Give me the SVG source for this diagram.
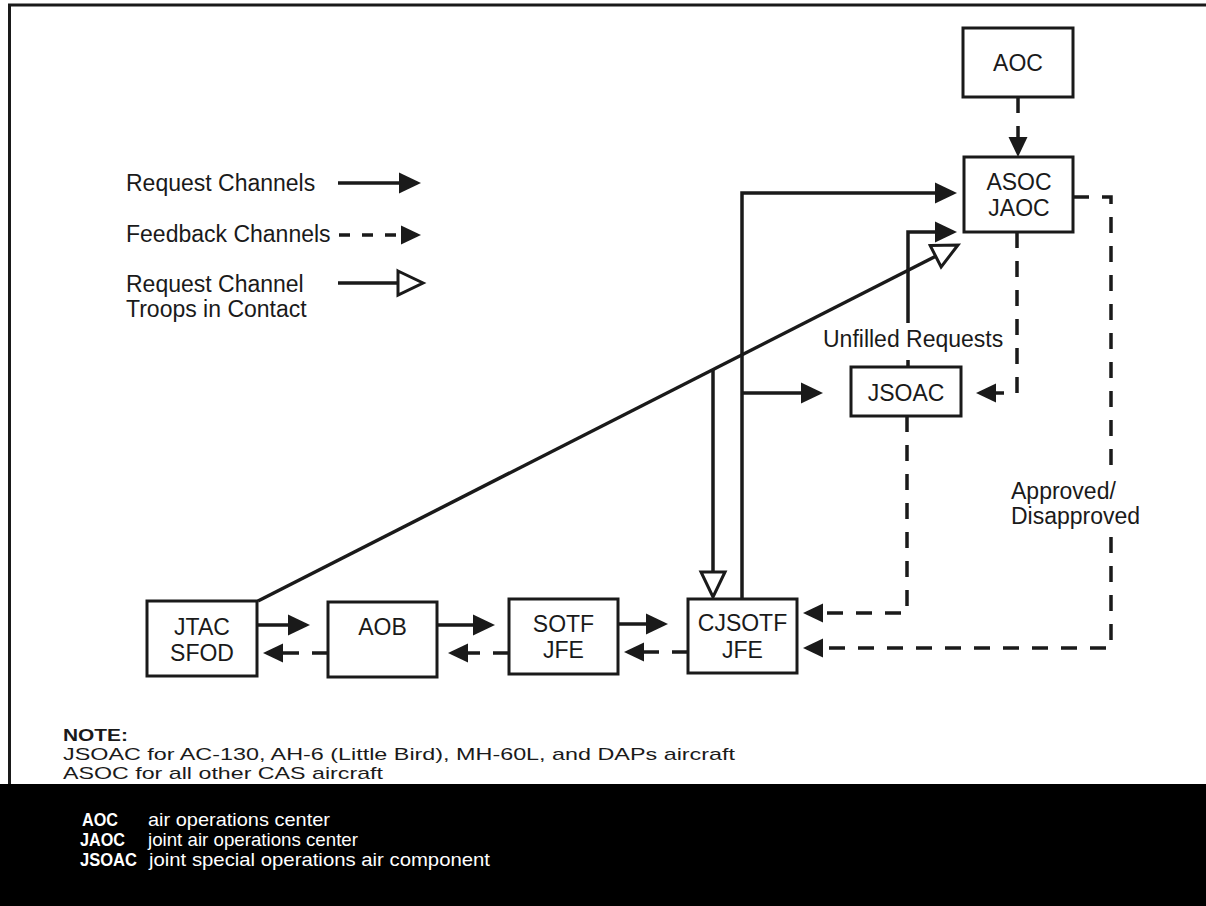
<svg xmlns="http://www.w3.org/2000/svg" width="1206" height="906" viewBox="0 0 1206 906">
<style>
  .box { fill: #fff; stroke: #1a1a1a; stroke-width: 3; }
  .lbl { font-family: "Liberation Sans", Arial, sans-serif; font-size: 23px; fill: #1a1a1a; text-anchor: middle; }
  .txt { font-family: "Liberation Sans", Arial, sans-serif; font-size: 23px; fill: #1a1a1a; }
  .note { font-family: "Liberation Sans", Arial, sans-serif; font-size: 17px; fill: #1a1a1a; }
  .band { font-family: "Liberation Sans", Arial, sans-serif; font-size: 19px; fill: #fff; }
  .solid { fill: none; stroke: #1a1a1a; stroke-width: 3.5; }
  .dash { fill: none; stroke: #1a1a1a; stroke-width: 3.5; stroke-dasharray: 16 13; }
</style>
<defs>
  <marker id="arr" markerUnits="userSpaceOnUse" markerWidth="22" markerHeight="21" refX="18" refY="10.5" orient="auto" overflow="visible">
    <path d="M0,0 L22,10.5 L0,21 z" fill="#1a1a1a"/>
  </marker>
  <marker id="arrs" markerUnits="userSpaceOnUse" markerWidth="20" markerHeight="19" refX="16" refY="9.5" orient="auto" overflow="visible">
    <path d="M0,0 L20,9.5 L0,19 z" fill="#1a1a1a"/>
  </marker>
  <marker id="hollow" markerUnits="userSpaceOnUse" markerWidth="25" markerHeight="24" refX="0" refY="12" orient="auto" overflow="visible">
    <path d="M0,0 L25,12 L0,24 z" fill="#fff" stroke="#1a1a1a" stroke-width="3"/>
  </marker>
</defs>

<rect x="0" y="0" width="1206" height="906" fill="#fff"/>
<rect x="9.5" y="5" width="1210" height="900" fill="none" stroke="#1a1a1a" stroke-width="3"/>
<rect x="0" y="784" width="1206" height="122" fill="#000"/>

<g id="legend">
  <text class="txt" x="126" y="191">Request Channels</text>
  <path class="solid" d="M338,183 H417" marker-end="url(#arr)"/>
  <text class="txt" x="126" y="242">Feedback Channels</text>
  <path class="solid" d="M339,235 H417" stroke-dasharray="11 12" marker-end="url(#arrs)"/>
  <text class="txt" x="126" y="292">Request Channel</text>
  <text class="txt" x="126" y="317">Troops in Contact</text>
  <path class="solid" d="M338,283 H398" marker-end="url(#hollow)"/>
</g>

<g id="connectors">
  <!-- solid request channels -->
  <path class="solid" d="M257,625 H306" marker-end="url(#arr)"/>
  <path class="solid" d="M437,625 H491" marker-end="url(#arr)"/>
  <path class="solid" d="M618,624 H664" marker-end="url(#arr)"/>
  <path class="solid" d="M742,599 V193 H953" marker-end="url(#arr)"/>
  <path class="solid" d="M742,393 H819" marker-end="url(#arr)"/>
  <path class="solid" d="M908,367 V360 M908,323 V232 H953" marker-end="url(#arr)"/>
  <!-- troops in contact -->
  <path class="solid" d="M258,601 L935.7,256.3" marker-end="url(#hollow)"/>
  <path class="solid" d="M713,370 V572" marker-end="url(#hollow)"/>
  <!-- feedback channels -->
  <path class="dash" d="M1018,97 V153" marker-end="url(#arrs)"/>
  <path class="dash" d="M1017,232 V393 H980" marker-end="url(#arrs)"/>
  <path class="dash" d="M1073,197 H1111 V472 M1111,537 V648 H807" marker-end="url(#arrs)"/>
  <path class="dash" d="M907,416 V613 H807" marker-end="url(#arrs)"/>
  <path class="dash" d="M688,652 H628" marker-end="url(#arrs)"/>
  <path class="dash" d="M509,653 H452" marker-end="url(#arrs)"/>
  <path class="dash" d="M328,653 H267" marker-end="url(#arrs)"/>
  <text class="txt" x="823" y="347">Unfilled Requests</text>
  <text class="txt" x="1011" y="499">Approved/</text>
  <text class="txt" x="1011" y="524">Disapproved</text>
</g>

<g id="node-aoc">
  <rect class="box" x="963" y="28" width="110" height="69"/>
  <text class="lbl" x="1018" y="71">AOC</text>
</g>
<g id="node-asoc">
  <rect class="box" x="964" y="157" width="109" height="75"/>
  <text class="lbl" x="1019" y="190">ASOC</text>
  <text class="lbl" x="1019" y="216">JAOC</text>
</g>
<g id="node-jsoac">
  <rect class="box" x="851" y="367" width="110" height="49"/>
  <text class="lbl" x="906" y="401">JSOAC</text>
</g>
<g id="node-jtac">
  <rect class="box" x="147" y="601" width="110" height="75"/>
  <text class="lbl" x="202" y="635">JTAC</text>
  <text class="lbl" x="202" y="661">SFOD</text>
</g>
<g id="node-aob">
  <rect class="box" x="328" y="602" width="109" height="75"/>
  <text class="lbl" x="382.5" y="635">AOB</text>
</g>
<g id="node-sotf">
  <rect class="box" x="509" y="599" width="109" height="75"/>
  <text class="lbl" x="563.5" y="632">SOTF</text>
  <text class="lbl" x="563.5" y="658">JFE</text>
</g>
<g id="node-cjsotf">
  <rect class="box" x="688" y="599" width="109" height="74"/>
  <text class="lbl" x="742.5" y="631">CJSOTF</text>
  <text class="lbl" x="742.5" y="658">JFE</text>
</g>

<g id="note">
  <text class="note" x="63" y="741" font-weight="bold" textLength="65" lengthAdjust="spacingAndGlyphs">NOTE:</text>
  <text class="note" x="63" y="760" textLength="672" lengthAdjust="spacingAndGlyphs">JSOAC for AC-130, AH-6 (Little Bird), MH-60L, and DAPs aircraft</text>
  <text class="note" x="63" y="779" textLength="320" lengthAdjust="spacingAndGlyphs">ASOC for all other CAS aircraft</text>
</g>

<g id="abbreviations">
  <text class="band" x="82" y="826" font-weight="bold" textLength="36" lengthAdjust="spacingAndGlyphs">AOC</text>
  <text class="band" x="148" y="826" textLength="182" lengthAdjust="spacingAndGlyphs">air operations center</text>
  <text class="band" x="80" y="846" font-weight="bold" textLength="45" lengthAdjust="spacingAndGlyphs">JAOC</text>
  <text class="band" x="148" y="846" textLength="210" lengthAdjust="spacingAndGlyphs">joint air operations center</text>
  <text class="band" x="80" y="866" font-weight="bold" textLength="57" lengthAdjust="spacingAndGlyphs">JSOAC</text>
  <text class="band" x="149" y="866" textLength="341" lengthAdjust="spacingAndGlyphs">joint special operations air component</text>
</g>
</svg>
